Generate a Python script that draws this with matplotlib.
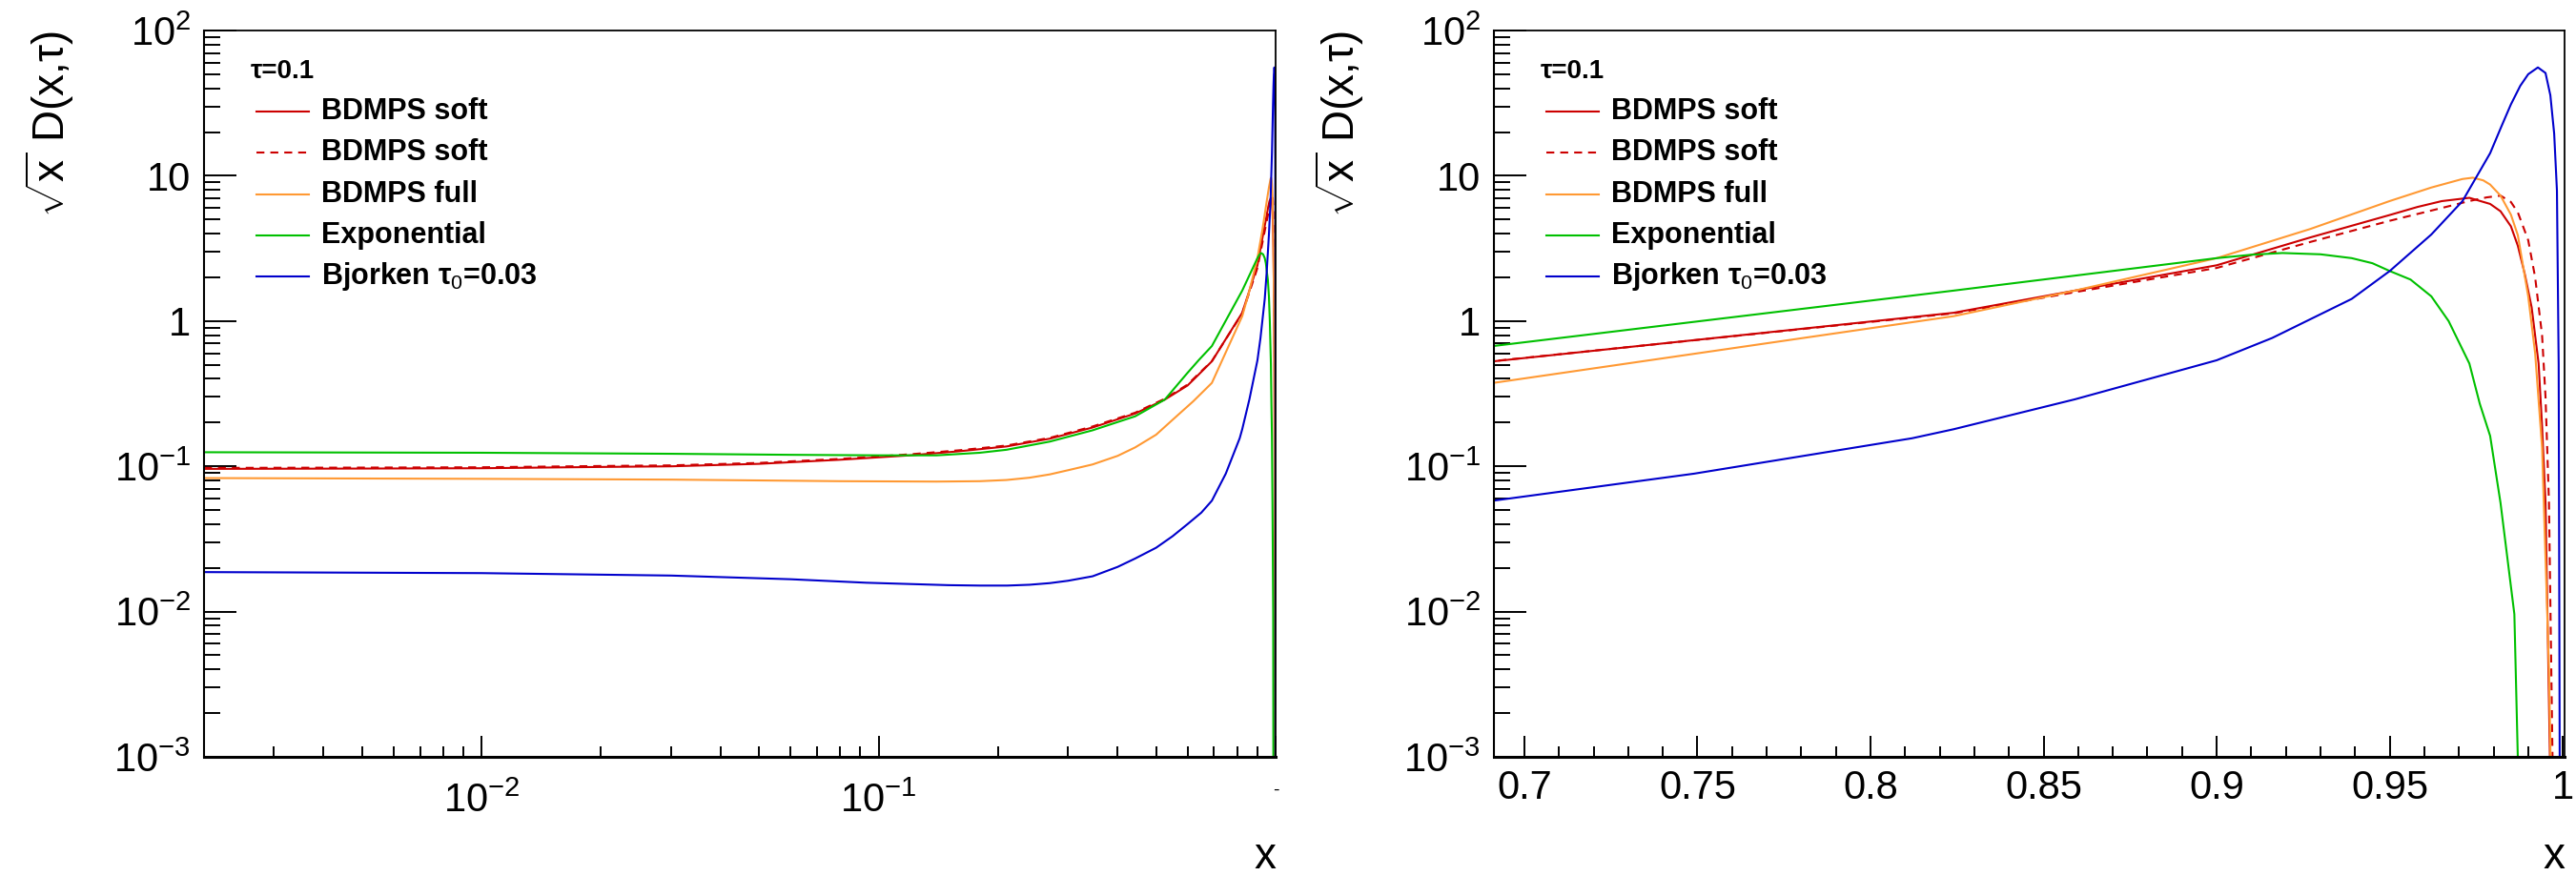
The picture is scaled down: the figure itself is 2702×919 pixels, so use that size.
import matplotlib.pyplot as plt
from matplotlib import rcParams
from matplotlib.ticker import FixedLocator, FixedFormatter, NullFormatter

rcParams["font.family"] = ["Liberation Sans", "DejaVu Sans"]
rcParams["mathtext.fontset"] = "custom"
rcParams["mathtext.rm"] = "Liberation Sans"
rcParams["mathtext.it"] = "Liberation Sans:italic"
rcParams["mathtext.bf"] = "Liberation Sans:bold"

# BDMPS soft (solid)
x_soft = [0.002, 0.005, 0.01, 0.02, 0.03, 0.05, 0.08, 0.12, 0.16, 0.21, 0.27,
          0.346, 0.443, 0.526, 0.60, 0.641, 0.691, 0.824, 0.859, 0.90, 0.927,
          0.95, 0.958, 0.965, 0.973, 0.979, 0.982, 0.985, 0.987, 0.989, 0.991,
          0.993, 0.994, 0.995, 0.997]
y_soft = [0.096, 0.0965, 0.097, 0.099, 0.100, 0.104, 0.111, 0.119, 0.127, 0.137,
          0.155, 0.185, 0.231, 0.288, 0.36, 0.43, 0.528, 1.14, 1.62, 2.42, 3.76,
          5.37, 6.1, 6.69, 7.05, 6.4, 5.7, 4.49, 3.3, 2.11, 1.24, 0.51, 0.19,
          0.056, 1e-4]
# BDMPS soft (dashed)
x_soft2 = [0.002, 0.005, 0.01, 0.02, 0.03, 0.05, 0.08, 0.12, 0.16, 0.21, 0.27,
           0.346, 0.443, 0.526, 0.60, 0.641, 0.691, 0.824, 0.859, 0.90, 0.927,
           0.95, 0.965, 0.973, 0.978, 0.982, 0.985, 0.987, 0.990, 0.992, 0.994,
           0.995, 0.996, 0.9976]
y_soft2 = [0.0975, 0.098, 0.0985, 0.1005, 0.1015, 0.1055, 0.1125, 0.121, 0.129,
           0.139, 0.157, 0.188, 0.234, 0.292, 0.365, 0.435, 0.53, 1.13, 1.58,
           2.32, 3.5, 4.9, 6.0, 6.7, 7.1, 7.3, 6.6, 5.6, 3.6, 2.0, 0.8, 0.3,
           0.056, 1e-4]
# BDMPS full
x_full = [0.002, 0.01, 0.03, 0.08, 0.14, 0.18, 0.21, 0.24, 0.27, 0.30, 0.346,
          0.40, 0.443, 0.50, 0.567, 0.62, 0.691, 0.824, 0.859, 0.90, 0.927, 0.95,
          0.962, 0.971, 0.974, 0.977, 0.979, 0.982, 0.985, 0.987, 0.99, 0.992,
          0.994, 0.996, 0.9972]
y_full = [0.083, 0.082, 0.081, 0.079, 0.0785, 0.079, 0.0805, 0.0835, 0.088,
          0.094, 0.103, 0.118, 0.135, 0.165, 0.225, 0.28, 0.375, 1.08, 1.62,
          2.71, 4.3, 6.7, 8.3, 9.5, 9.7, 9.3, 8.7, 7.3, 5.4, 3.9, 1.48, 0.6,
          0.135, 0.004, 1e-4]
# Exponential
x_exp = [0.002, 0.01, 0.03, 0.06, 0.10, 0.14, 0.18, 0.21, 0.27, 0.346, 0.443,
         0.526, 0.60, 0.641, 0.691, 0.824, 0.90, 0.91, 0.919, 0.93, 0.939, 0.945,
         0.95, 0.956, 0.962, 0.967, 0.973, 0.976, 0.979, 0.982, 0.986, 0.988]
y_exp = [0.125, 0.124, 0.122, 0.120, 0.119, 0.119, 0.124, 0.130, 0.148, 0.177,
         0.221, 0.288, 0.44, 0.54, 0.673, 1.62, 2.71, 2.86, 2.94, 2.88, 2.71,
         2.5, 2.21, 1.93, 1.48, 1.0, 0.51, 0.27, 0.162, 0.056, 0.0096, 1e-4]
# Bjorken tau0=0.03
x_bj = [0.002, 0.01, 0.03, 0.06, 0.093, 0.15, 0.18, 0.211, 0.24, 0.27, 0.30,
        0.346, 0.40, 0.443, 0.50, 0.55, 0.60, 0.65, 0.691, 0.749, 0.812, 0.824,
        0.859, 0.90, 0.916, 0.939, 0.95, 0.962, 0.971, 0.979, 0.9822, 0.985,
        0.9877, 0.990, 0.9928, 0.995, 0.9964, 0.9975, 0.9983, 0.9988, 0.9992]
y_bj = [0.0187, 0.0184, 0.0177, 0.0167, 0.0158, 0.0152, 0.0151, 0.0151, 0.0153,
        0.0157, 0.0163, 0.0175, 0.0203, 0.0232, 0.0275, 0.033, 0.040, 0.048,
        0.058, 0.089, 0.156, 0.18, 0.289, 0.537, 0.764, 1.42, 2.21, 3.94, 6.69,
        14.3, 21.7, 31, 41.6, 50, 55.7, 51, 35.8, 19.5, 7.9, 0.5, 1e-4]

labels = ["BDMPS soft", "BDMPS soft", "BDMPS full", "Exponential",
          "Bjorken τ$_0$=0.03"]
colors = ["#cc0000", "#cc0000", "#ff9933", "#00c000", "#0000cc"]
styles = ["-", (0, (4, 3)), "-", "-", "-"]
series = [(x_soft, y_soft), (x_soft2, y_soft2), (x_full, y_full),
          (x_exp, y_exp), (x_bj, y_bj)]

y_major = [1e-3, 1e-2, 1e-1, 1, 10, 100]
y_major_lab = [r"$10^{-3}$", r"$10^{-2}$", r"$10^{-1}$", "1", "10", r"$10^{2}$"]
y_minor = [k * 10.0 ** e for e in range(-3, 2) for k in range(2, 10)]

fig = plt.figure(figsize=(27.02, 9.19), dpi=100)
axL = fig.add_axes([214 / 2702, 125 / 919, 1124 / 2702, 762 / 919])
axR = fig.add_axes([1567 / 2702, 125 / 919, 1123 / 2702, 762 / 919])

for ax in (axL, axR):
    for (xs, ys), c, ls in zip(series, colors, styles):
        ax.plot(xs, ys, color=c, linestyle=ls, linewidth=1.5)
    ax.set_yscale("log")
    ax.set_ylim(1e-3, 1e2)
    ax.yaxis.set_major_locator(FixedLocator(y_major))
    ax.yaxis.set_major_formatter(FixedFormatter(y_major_lab))
    ax.yaxis.set_minor_locator(FixedLocator(y_minor))
    ax.yaxis.set_minor_formatter(NullFormatter())
    ax.tick_params(axis="y", which="major", direction="in", length=24.5,
                   width=1.4, labelsize=30, pad=10)
    ax.tick_params(axis="y", which="minor", direction="in", length=12.2,
                   width=1.4)
    ax.tick_params(axis="x", which="major", direction="in", length=15.8,
                   width=1.4, labelsize=30)
    ax.tick_params(axis="x", which="minor", direction="in", length=7.9,
                   width=1.4)
    ax.spines["left"].set_linewidth(1.5)
    ax.spines["bottom"].set_linewidth(2.2)
    ax.spines["top"].set_linewidth(1.3)
    ax.spines["right"].set_linewidth(1.3)

    # y title and x title (ROOT style, aligned to the axis end)
    ax.text(-0.144, 1.0, r"$\sqrt{\mathrm{x}}$ D(x,τ)", rotation=90,
            ha="center", va="top", fontsize=33, transform=ax.transAxes)
    ax.text(1.0, -0.153, "x", ha="right", va="baseline", fontsize=33,
            transform=ax.transAxes)

    # legend block
    ax.text(0.0436, (794 - 82) / 762, "τ=0.1", fontsize=20, fontweight="bold",
            ha="left", va="baseline", transform=ax.transAxes)
    for i, (lab, c, ls) in enumerate(zip(labels, colors, styles)):
        base = 125 + i * 43.3
        yl = (794 - base + 8) / 762
        ax.plot([0.0489, 0.0979], [yl, yl], color=c, linestyle=ls,
                linewidth=1.5, transform=ax.transAxes, clip_on=False)
        ax.text(0.1094, (794 - base) / 762, lab, fontsize=22, fontweight="bold",
                ha="left", va="baseline", transform=ax.transAxes)

# left: log x
x_major_L = [0.01, 0.1, 1.0]
x_major_L_lab = [r"$10^{-2}$", r"$10^{-1}$", "-"]
x_minor_L = [k * 10.0 ** e for e in range(-3, 0) for k in range(2, 10)
             if 0.002 < k * 10.0 ** e < 1]
axL.set_xscale("log")
axL.set_xlim(0.002, 1.0)
axL.xaxis.set_major_locator(FixedLocator(x_major_L))
axL.xaxis.set_major_formatter(FixedFormatter(x_major_L_lab))
axL.xaxis.set_minor_locator(FixedLocator(x_minor_L))
axL.xaxis.set_minor_formatter(NullFormatter())
axL.tick_params(axis="x", which="major", pad=19)
axL.get_xticklabels()[-1].set_fontsize(14)

# right: linear x
x_major_R = [0.7, 0.75, 0.8, 0.85, 0.9, 0.95, 1.0]
x_major_R_lab = ["0.7", "0.75", "0.8", "0.85", "0.9", "0.95", "1"]
x_minor_R = [0.70 + 0.01 * i for i in range(31)]
axR.set_xlim(0.6912, 1.0005)
axR.xaxis.set_major_locator(FixedLocator(x_major_R))
axR.xaxis.set_major_formatter(FixedFormatter(x_major_R_lab))
axR.xaxis.set_minor_locator(FixedLocator(x_minor_R))
axR.xaxis.set_minor_formatter(NullFormatter())
axR.tick_params(axis="x", which="major", pad=9)

fig.savefig("out.png", dpi=100, facecolor="white")
